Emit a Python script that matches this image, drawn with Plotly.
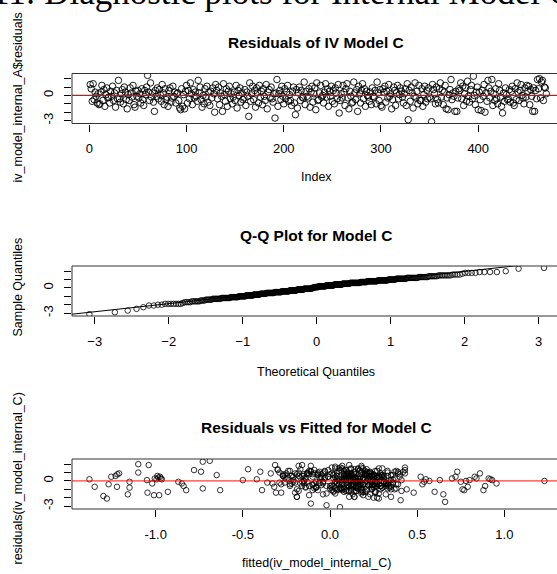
import numpy as np
import plotly.graph_objects as go
from statistics import NormalDist

# ---------------- data ----------------
resid = [
    1.3, 0.8, -0.7, 1.4, -0.5, 0.4, -0.1, -0.9, 0.2, -1.1,
    -1.0, 0.4, 1.2, -0.6, 0.7, -1.3, 0.1, 0.9, -0.3, -0.2,
    -0.9, 0.5, -0.1, 1.1, -0.6, 0.3, -1.4, 0.6, -0.4, 1.8,
    -0.4, -0.8, 0.2, 0.7, -1.0, 1.0, 0.4, -0.5, -1.6, 0.1,
    -0.6, 0.9, 0.3, -0.2, 1.2, -1.1, -1.4, 0.5, -0.1, 0.6,
    -0.3, 0.2, -0.9, 0.8, -0.5, -1.2, 0.6, 0.1, 1.0, 2.4,
    0.4, -0.6, 1.5, -0.2, 0.3, -0.8, -1.9, 0.6, -0.1, 0.9,
    -0.4, 0.7, 0.1, -0.7, 1.3, 0.3, -1.1, 0.8, -0.5, -0.2,
    -1.3, 0.6, 0.9, -0.8, -0.3, 1.1, -0.1, 0.4, -0.9, 0.2,
    0.3, -0.6, -1.5, -1.7, 0.8, -1.3, 0.1, -1.6, 0.5, 1.2,
    -0.9, 0.6, -0.4, 1.5, 0.2, -1.1, 0.7, -0.3, 0.4, -0.1,
    -0.7, 1.8, 0.3, 1.0, -0.5, -1.4, 0.0, -1.0, 0.8, -0.2,
    1.1, -0.8, 0.4, -1.2, 0.5, -0.3, 0.9, 0.2, -2.0, 1.3,
    0.6, -0.4, 1.0, -1.1, 0.3, -0.1, -1.9, 1.4, 0.1, -0.7,
    0.8, -1.3, 0.5, 1.1, -0.4, 0.2, -1.0, -0.2, 0.4, -0.6,
    1.2, -1.5, 0.6, 0.0, 0.9, -0.8, 0.3, -0.5, -0.3, 0.7,
    -1.2, 0.4, -0.1, -2.5, 1.5, -0.7, 0.2, 1.1, -0.5, 0.6,
    -1.4, 0.9, 0.3, -0.9, 1.2, -0.2, 0.5, -1.1, 0.8, -0.1,
    -0.6, 1.3, -1.6, 0.4, 0.7, -0.3, 1.0, -0.4, -0.8, 0.2,
    -2.7, 0.3, 1.9, -1.3, 0.2, 0.6, -0.5, 1.1, -0.1, -1.0,
    0.8, -0.4, 0.4, 1.2, -0.7, 0.1, -0.6, -1.2, 0.5, 1.0,
    -0.9, -2.3, 0.7, -1.5, 0.3, 1.0, -0.6, 0.6, -0.2, -0.3,
    1.6, -1.1, 0.5, -0.1, -0.3, 0.8, -1.4, 0.4, 1.1, -0.8,
    0.2, 0.9, -1.7, 1.5, -0.6, -0.5, 0.3, 1.2, -0.2, 0.0,
    -0.9, 0.4, 1.4, -0.2, 0.8, -1.3, 0.5, -0.1, 1.1, -0.7,
    0.6, -1.0, 0.9, 0.3, -0.4, 1.3, -2.1, -0.6, 0.2, -0.3,
    1.2, 0.4, -1.2, 0.8, 1.4, -0.3, -1.6, 0.5, -0.1, -0.9,
    -0.8, 1.6, 0.3, -0.5, 0.7, -1.9, 1.1, 0.2, -0.9, 0.6,
    1.4, -0.4, 0.8, -1.3, 0.5, 0.0, -0.2, -0.7, 0.4, -1.1,
    0.9, -0.1, -0.2, 0.6, -1.0, 1.6, 0.3, -0.6, 0.7, -1.2,
    -1.4, 0.8, 0.4, 1.1, -0.8, 0.5, -0.3, 1.3, -0.1, 0.2,
    -1.6, -0.5, 1.0, 0.6, -1.2, 0.3, 1.2, -0.4, 0.1, 0.9,
    0.5, -0.2, -0.9, 0.2, 0.8, -1.2, 1.4, -2.9, 0.6, -0.7,
    1.0, 0.3, -1.5, -0.1, 1.5, -0.3, 0.5, -1.0, 1.2, -0.6,
    -0.6, 0.8, -1.3, 0.1, 1.1, -0.8, 0.6, -0.4, 0.9, -0.2,
    -0.4, -3.13, 1.3, 0.7, 0.2, -1.0, 1.0, -0.5, -0.9, 0.8,
    1.5, -0.2, 0.6, -1.1, 0.4, 1.2, -1.6, -0.3, -1.7, 0.1,
    0.7, 1.9, -0.5, 0.3, -0.1, -1.9, 0.5, -1.9, -0.3, 0.8,
    0.6, 1.5, -0.4, 1.1, -1.2, 0.2, 0.9, -0.7, 1.7, -0.1,
    -0.8, 0.7, 1.2, -0.4, 2.3, 0.0, -1.1, 0.4, 1.0, -1.7,
    0.4, -0.5, -1.8, 0.6, -0.1, 1.3, -2.0, 0.3, -0.7, 1.8,
    0.9, -0.3, 0.5, 1.9, -1.2, 0.2, -0.6, 0.8, -0.4, -1.0,
    1.4, 0.6, -0.2, -1.3, -2.1, 0.3, -0.7, 0.9, 0.1, -0.5,
    -0.4, 0.7, -0.8, 0.5, 1.1, -0.9, -1.2, 0.8, -0.5, 1.5,
    0.4, -0.6, 0.6, 1.3, 0.0, -0.3, -1.0, 0.9, -0.2, 1.2,
    0.5, 1.1, -1.1, 0.7, -0.1, -1.9, 0.9, -1.9, 0.6, -0.4,
    1.9, 0.8, 2.0, -0.3, 1.6, 1.8, -0.6, 1.0, 0.9, 0.2,
]

fitted = [
    -0.78, -1.22, -1.35, -0.47, 0.12, -0.05, -1.15, -0.73, -1.38, -0.63,
    0.21, -0.14, 0.33, 0.02, -0.26, 0.18, -1.05, -1.21, -1.02, 0.07,
    -0.09, -1.255, -0.87, -0.74, 0.26, 0.11, -0.31, 0.04, 0.38, -0.18,
    -1.27, 0.15, -0.995, -0.65, 0.29, -0.07, -0.985, 0.22, -1.16, -0.21,
    -0.84, 0.86, -0.97, 0.09, 0.17, -0.825, -1.047, -0.975, 0.31, -1.23,
    -0.85, -0.965, 0.03, -0.12, 0.24, 0.41, -0.99, -0.50, -1.10, -0.69,
    0.14, -0.02, 0.19, -0.29, -1.005, 0.08, 0.35, -0.16, 0.27, 0.01,
    -0.23, 0.13, 0.93, -1.222, 0.06, 0.91, 0.88, 0.20, -0.10, 0.36,
    -0.93, 0.10, -0.34, -1.15, 0.955, -0.40, 0.23, -0.06, 0.16, 0.92,
    0.84, 0.89, 0.28, -1.01, -0.19, 0.60, 0.80, 0.65, 0.83, 0.05,
    0.18, -0.27, 0.53, 0.12, -0.42, -0.39, 0.30, -0.04, 0.21, 0.54,
    0.79, 0.07, 0.70, -0.13, 0.25, 0.48, 1.23, 0.76, 0.00, 0.34,
    0.73, -0.08, 0.19, 0.14, 0.72, -0.22, 0.43, 0.09, 0.27, 0.43,
    -0.15, 0.32, 0.04, 0.77, 0.22, 0.75, 0.11, -0.30, 0.63, 0.17,
    0.02, 0.26, 0.52, -0.11, 0.39, 0.08, 0.44, -0.20, 0.13, 0.29,
    -0.03, 0.18, 0.24, 0.78, -0.25, 0.06, 0.37, 0.15, -0.09, 0.21,
    0.10, -0.17, 0.31, 0.66, 0.03, 0.25, 0.55, -0.06, 0.19, 0.12,
    -0.28, 0.23, 0.07, 0.33, -0.12, 0.16, 0.40, 0.01, 0.20, -0.21,
    0.27, 0.09, -0.04, 0.14, 0.35, -0.33, 0.22, 0.05, 0.30, -0.14,
    -0.11, 0.17, -1.04, 0.26, 0.08, -0.18, 0.12, 0.42, 0.03, 0.24,
    -0.07, 0.19, 0.28, -0.24, 0.11, 0.34, 0.00, 0.15, -0.10, 0.21,
    0.06, 0.405, 0.25, -0.02, 0.13, -0.29, 0.32, 0.09, 0.18, -0.15,
    0.43, 0.04, 0.23, -0.08, 0.36, 0.14, -0.20, 0.27, 0.10, 0.01,
    0.20, -0.13, -0.98, 0.07, 0.29, -0.05, 0.16, 0.38, -0.26, 0.12,
    0.24, 0.03, -0.17, 0.31, 0.08, 0.19, -0.01, 0.26, 0.14, -0.32,
    0.11, 0.35, -0.09, 0.22, 0.05, 0.17, 0.28, -0.12, 0.09, 0.33,
    -0.23, 0.15, 0.02, 0.40, 0.21, -0.06, 0.13, 0.25, -0.16, 0.07,
    0.30, 0.18, -0.03, 0.10, 0.36, -0.19, 0.23, 0.04, 0.16, -0.27,
    0.12, 0.27, -0.10, 0.20, 0.06, 0.57, 0.32, -0.14, 0.09, 0.18,
    -0.04, 0.24, 0.14, -0.22, 0.37, 0.01, 0.19, 0.29, -0.07, 0.11,
    0.26, -0.15, 0.08, 0.21, 0.34, -0.01, 0.13, -0.30, 0.17, 0.05,
    0.23, 0.10, -0.18, 0.31, 0.15, 0.02, -0.11, 0.28, 0.07, 0.39,
    -0.05, 0.20, 0.12, -0.25, 0.25, 0.09, 0.16, -0.02, 0.33, -0.08,
    0.14, 0.22, 0.03, -0.13, 0.30, 0.18, -0.21, 0.06, 0.27, 0.11,
    -0.16, 0.24, 0.08, 0.35, -0.03, 0.15, 0.21, -0.28, 0.12, 0.04,
    0.19, 0.057, -0.09, 0.29, 0.13, -0.19, 0.23, 0.01, 0.38, 0.10,
    0.16, -0.06, 0.26, 0.07, -0.24, 0.20, 0.32, 0.11, -0.12, 0.41,
    0.02, -0.315, 0.17, 0.25, -0.04, 0.14, 0.30, 0.22, -0.17, 0.09,
    0.28, 0.05, -0.10, 0.18, 0.12, 0.36, -0.20, 0.24, 0.03, 0.15,
    -0.14, 0.21, 0.08, 0.33, -0.73, 0.16, -0.07, 0.27, 0.10, 0.19,
    -0.26, 0.13, -1.30, 0.23, 0.06, -0.01, 0.25, 0.31, 0.15, -0.11,
    0.20, 0.04, 0.29, 0.11, -0.18, 0.17, 0.34, -0.05, 0.24, 0.08,
    0.14, -0.22, 0.26, 0.02, -1.28, 0.19, 0.35, -0.13, 0.12, 0.22,
    0.07, 0.30, -0.08, 0.17, 0.39, 0.00, 0.21, -0.27, 0.13, 0.28,
    -0.03, 0.16, 0.24, 0.09, -0.15, 0.32, 0.05, 0.18, -0.36, 0.26,
    0.11, 0.37, -0.10, 0.20, 0.03, 0.14, 0.29, -0.19, 0.08, 0.23,
    -0.16, 0.12, -1.10, 0.27, 0.06, 0.18, -0.23, 0.33, 0.10, 0.15,
]

index = list(range(1, len(resid) + 1))

idx_ticks = [0, 100, 200, 300, 400]
qq_ticks = [-3, -2, -1, 0, 1, 2, 3]
fit_ticks = [-1.0, -0.5, 0.0, 0.5, 1.0]
fit_labels = ["-1.0", "-0.5", "0.0", "0.5", "1.0"]
y_ticks = [-3, -2, -1, 0, 1, 2]
y_labels = ["-3", "", "", "0", "", ""]

main_title = "11: Diagnostic plots for Internal Model C"
titles = ["Residuals of IV Model C", "Q-Q Plot for Model C", "Residuals vs Fitted for Model C"]
xlabels = ["Index", "Theoretical Quantiles", "fitted(iv_model_internal_C)"]
ylabels = ["iv_model_internal_A$residuals", "Sample Quantiles", "residuals(iv_model_internal_C)"]

# ---------------- derived quantities ----------------
n = len(resid)
nd = NormalDist()
theo = [nd.inv_cdf((i - 0.5) / n) for i in range(1, n + 1)]
sample_sorted = sorted(resid)
q1, q3 = np.quantile(resid, [0.25, 0.75])
x1, x3 = nd.inv_cdf(0.25), nd.inv_cdf(0.75)
slope = (q3 - q1) / (x3 - x1)
intercept = q1 - slope * x1

ymin, ymax = min(resid), max(resid)
pad = 0.04 * (ymax - ymin)
yrange = [ymin - pad, ymax + pad]

# ---------------- layout geometry (pixels) ----------------
W, H = 557, 574
LEFT = 72
panels = [  # top, bottom pixel rows of plot boxes
    (73.5, 123.5),
    (266, 316),
    (459, 509),
]
xranges = [
    [-17.76, 481.0],
    [-3.307, 3.247],
    [-1.480, 1.302],
]

def fy(p):
    return 1 - p / H

def fx(p):
    return p / W

font_family = "Liberation Sans, Arial, sans-serif"

fig = go.Figure()

mk_big = dict(symbol="circle-open", size=6.5, color="black", line=dict(width=0.9, color="black"))
mk_small = dict(symbol="circle-open", size=5.5, color="black", line=dict(width=0.8, color="black"))

fig.add_trace(go.Scatter(x=index, y=resid, mode="markers", marker=mk_big,
                         xaxis="x", yaxis="y", hoverinfo="skip"))
fig.add_trace(go.Scatter(x=theo, y=sample_sorted, mode="markers", marker=mk_small,
                         xaxis="x2", yaxis="y2", hoverinfo="skip"))
fig.add_trace(go.Scatter(x=[-4, 4], y=[intercept - 4 * slope, intercept + 4 * slope],
                         mode="lines", line=dict(color="black", width=1),
                         xaxis="x2", yaxis="y2", hoverinfo="skip"))
fig.add_trace(go.Scatter(x=fitted, y=resid, mode="markers", marker=mk_small,
                         xaxis="x3", yaxis="y3", hoverinfo="skip"))

tickfont = dict(family=font_family, size=13, color="black")
xticks = [dict(tickvals=idx_ticks), dict(tickvals=qq_ticks),
          dict(tickvals=fit_ticks, ticktext=fit_labels)]

layout = dict(
    width=W, height=H, margin=dict(l=0, r=0, t=0, b=0),
    plot_bgcolor="white", paper_bgcolor="white", showlegend=False,
)
for k in range(3):
    sfx = "" if k == 0 else str(k + 1)
    top, bot = panels[k]
    layout["xaxis" + sfx] = dict(
        domain=[fx(LEFT), 1.0], range=xranges[k], anchor="y" + sfx,
        showgrid=False, zeroline=False, showline=False,
        ticks="outside", ticklen=7, tickwidth=1, tickcolor="black",
        tickfont=tickfont, ticklabelstandoff=6, **xticks[k],
    )
    layout["yaxis" + sfx] = dict(
        domain=[fy(bot), fy(top)], range=yrange, anchor="x" + sfx,
        showgrid=False, zeroline=False, showline=False,
        ticks="outside", ticklen=7, tickwidth=1, tickcolor="black",
        tickvals=y_ticks, ticktext=y_labels, tickangle=-90,
        tickfont=tickfont, ticklabelstandoff=6,
    )
fig.update_layout(**layout)

shapes = []
for k in range(3):
    top, bot = panels[k]
    shapes.append(dict(type="rect", xref="paper", yref="paper",
                       x0=fx(LEFT), x1=1.05, y0=fy(bot), y1=fy(top),
                       line=dict(color="#333333", width=1), layer="above"))
red_cols = {0: "red", 2: "rgba(255,0,0,0.75)"}
for k in (0, 2):
    sfx = "" if k == 0 else str(k + 1)
    shapes.append(dict(type="line", xref=("x" + sfx) + " domain", yref="y" + sfx,
                       x0=0, x1=1, y0=0, y1=0,
                       line=dict(color=red_cols[k], width=1.3), layer="above"))
fig.update_layout(shapes=shapes)

ann = []
title_y = [43, 235, 427]
xlab_y = [177, 371.5, 563]
ylab_y = [98, 287, 479]
for k in range(3):
    ann.append(dict(text="<b>" + titles[k] + "</b>", x=fx(316), y=fy(title_y[k]),
                    xref="paper", yref="paper", showarrow=False,
                    xanchor="center", yanchor="middle",
                    font=dict(family=font_family, size=15.5, color="black")))
    ann.append(dict(text=xlabels[k], x=fx(316), y=fy(xlab_y[k]),
                    xref="paper", yref="paper", showarrow=False,
                    xanchor="center", yanchor="middle",
                    font=dict(family=font_family, size=12.5, color="black")))
    ann.append(dict(text=ylabels[k], x=fx(17.5), y=fy(ylab_y[k]),
                    xref="paper", yref="paper", showarrow=False, textangle=-90,
                    xanchor="center", yanchor="middle",
                    font=dict(family=font_family, size=12.5, color="black")))
ann.append(dict(text=main_title, x=fx(-10), y=fy(-7), xref="paper", yref="paper",
                showarrow=False, xanchor="left", yanchor="middle",
                font=dict(family="Liberation Serif, Times New Roman, serif", size=35, color="black")))
fig.update_layout(annotations=ann)

fig.write_html("out.html")
